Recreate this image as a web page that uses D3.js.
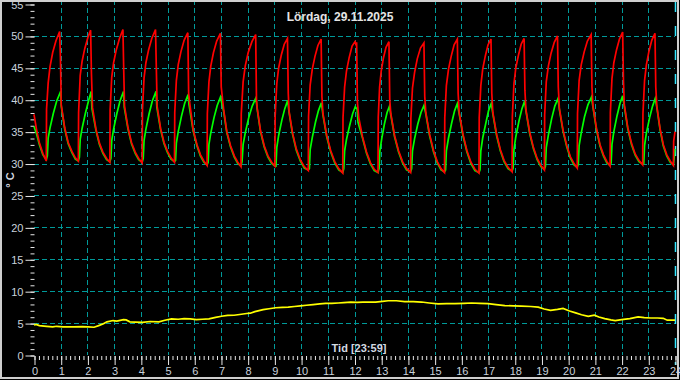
<!DOCTYPE html>
<html>
<head>
<meta charset="utf-8">
<script src="https://cdn.jsdelivr.net/npm/d3@7/dist/d3.min.js"></script>
<style>
body{margin:0;background:#000;}
text{font-family:"Liberation Sans",Arial,sans-serif;}
</style>
</head>
<body>
<script>
var title = "Lördag, 29.11.2025";
var xTitle = "Tid [23:59]";
var yTitle = "° C";
var hourTicks = d3.range(0, 25);
var tempTicks = d3.range(0, 56, 5);
var colors = ["#ff0000", "#00ff00", "#ffff00"];

// supply temperature [hour, °C]
var redSeries = [
[0,37.7],[0.1,35.2],[0.2,33.3],[0.33,31.6],[0.46,30.4],
[0.47,38.5],[0.53,42.6],[0.6,45.2],[0.7,47.4],[0.82,49.2],[0.96,50.7],[0.99,46.6],[1.02,39.2],[1.15,35.6],[1.28,33.3],[1.42,31.9],[1.55,30.9],[1.66,30.4],
[1.67,38.0],[1.73,43.8],[1.8,46.0],[1.9,48.0],[2.02,49.8],[2.12,50.9],[2.15,44.2],[2.19,38.8],[2.32,35.4],[2.45,33.2],[2.58,31.8],[2.72,30.8],[2.84,30.2],
[2.85,38.4],[2.91,43.5],[2.98,45.8],[3.08,47.8],[3.2,49.6],[3.33,51.0],[3.36,44.5],[3.39,39.0],[3.52,35.6],[3.65,33.3],[3.79,31.8],[3.92,30.8],[4.05,30.1],
[4.06,38.3],[4.12,43.4],[4.19,45.8],[4.29,47.8],[4.41,49.6],[4.55,51.0],[4.58,45.0],[4.61,39.0],[4.74,35.5],[4.87,33.3],[5.0,31.9],[5.13,30.9],[5.26,30.2],
[5.27,38.0],[5.33,43.0],[5.4,45.5],[5.5,47.5],[5.62,49.3],[5.76,50.5],[5.79,41.0],[5.83,39.5],[5.96,35.3],[6.1,33.0],[6.23,31.4],[6.36,30.4],[6.48,29.7],
[6.49,37.8],[6.55,42.8],[6.62,45.3],[6.72,47.4],[6.84,49.2],[6.98,50.4],[7.01,42.0],[7.1,38.5],[7.22,35.0],[7.36,32.8],[7.5,31.2],[7.63,30.2],[7.75,29.5],
[7.76,37.8],[7.83,42.8],[7.91,45.3],[8.02,47.4],[8.16,49.1],[8.3,50.2],[8.33,40.0],[8.36,38.6],[8.48,35.2],[8.62,32.8],[8.76,31.2],[8.9,30.2],[9.02,29.6],
[9.03,37.5],[9.09,42.5],[9.16,45.0],[9.26,47.0],[9.37,48.7],[9.49,49.6],[9.52,41.0],[9.55,38.2],[9.68,34.8],[9.82,32.3],[9.97,30.6],[10.12,29.5],[10.27,28.9],
[10.28,37.4],[10.34,42.3],[10.42,44.8],[10.52,46.8],[10.63,48.5],[10.75,49.5],[10.78,40.5],[10.82,37.8],[10.96,34.4],[11.11,32.0],[11.26,30.3],[11.41,29.2],[11.56,28.5],
[11.57,37.2],[11.63,42.0],[11.7,44.5],[11.8,46.6],[11.91,48.4],[12.02,49.1],[12.06,48.6],[12.08,49.0],[12.11,39.5],[12.16,37.2],[12.3,34.2],[12.45,31.8],[12.6,30.1],[12.74,29.1],[12.88,28.6],
[12.89,37.3],[12.94,42.0],[13.0,44.5],[13.08,46.5],[13.18,48.2],[13.29,49.1],[13.32,40.0],[13.36,37.8],[13.5,34.4],[13.65,32.0],[13.8,30.3],[13.95,29.2],[14.1,28.6],
[14.11,37.0],[14.17,41.8],[14.25,44.3],[14.35,46.4],[14.47,48.1],[14.6,48.9],[14.63,40.5],[14.67,38.0],[14.81,34.6],[14.96,32.0],[15.1,30.3],[15.24,29.2],[15.37,28.6],
[15.38,37.2],[15.44,42.2],[15.52,44.8],[15.62,46.8],[15.73,48.6],[15.85,49.5],[15.88,41.0],[15.92,38.0],[16.06,34.6],[16.21,32.0],[16.36,30.2],[16.51,29.1],[16.66,28.5],
[16.67,37.2],[16.73,42.2],[16.8,44.8],[16.9,46.9],[17.0,48.6],[17.11,49.5],[17.14,41.0],[17.18,38.0],[17.32,34.6],[17.46,32.2],[17.6,30.5],[17.75,29.4],[17.9,28.7],
[17.91,37.4],[17.97,42.5],[18.04,45.0],[18.14,47.0],[18.24,48.7],[18.35,49.6],[18.38,41.5],[18.42,38.4],[18.56,34.9],[18.7,32.5],[18.84,30.8],[18.98,29.7],[19.11,29.0],
[19.12,37.6],[19.18,42.8],[19.26,45.3],[19.36,47.3],[19.48,49.0],[19.6,50.0],[19.63,42.0],[19.67,38.7],[19.81,35.2],[19.95,32.8],[20.08,31.1],[20.22,30.0],[20.34,29.3],
[20.35,37.8],[20.41,43.0],[20.49,45.5],[20.6,47.5],[20.72,49.2],[20.86,50.2],[20.89,42.0],[20.93,39.0],[21.06,35.5],[21.19,33.0],[21.32,31.4],[21.45,30.3],[21.57,29.6],
[21.58,38.0],[21.64,43.3],[21.71,45.8],[21.81,47.8],[21.92,49.5],[22.04,50.6],[22.07,43.0],[22.1,39.3],[22.23,35.7],[22.37,33.2],[22.51,31.5],[22.65,30.5],[22.79,29.8],
[22.8,37.8],[22.86,43.0],[22.93,45.5],[23.02,47.5],[23.13,49.3],[23.25,50.4],[23.28,42.0],[23.32,39.0],[23.44,35.5],[23.56,33.0],[23.69,31.4],[23.82,30.4],[23.94,29.7],
[23.95,33.5],[24,35.0]
];

// return temperature [hour, °C]
var greenSeries = [
[0,35.8],[0.1,34.6],[0.2,33.0],[0.33,31.4],[0.46,30.6],
[0.5,31.2],[0.53,34.0],[0.6,35.6],[0.72,37.8],[0.85,39.8],[1.0,41.3],[1.02,39.0],[1.15,35.4],[1.28,33.1],[1.42,31.7],[1.55,30.7],[1.66,30.4],
[1.7,31.0],[1.73,33.8],[1.8,35.5],[1.92,37.8],[2.04,39.8],[2.14,41.3],[2.17,38.6],[2.32,35.2],[2.45,33.0],[2.58,31.6],[2.72,30.6],[2.84,30.3],
[2.88,30.8],[2.91,33.6],[2.98,35.4],[3.1,37.8],[3.22,39.8],[3.35,41.3],[3.38,38.8],[3.52,35.4],[3.65,33.1],[3.79,31.6],[3.92,30.6],[4.05,30.2],
[4.09,30.8],[4.12,33.6],[4.19,35.4],[4.31,37.8],[4.43,39.8],[4.57,41.3],[4.6,38.8],[4.74,35.3],[4.87,33.1],[5.0,31.7],[5.13,30.7],[5.26,30.3],
[5.3,30.5],[5.33,33.2],[5.4,35.0],[5.52,37.4],[5.64,39.4],[5.77,40.8],[5.8,39.3],[5.96,35.1],[6.1,32.8],[6.23,31.2],[6.36,30.2],[6.48,29.8],
[6.52,30.2],[6.55,33.0],[6.62,34.8],[6.74,37.2],[6.86,39.1],[6.98,40.4],[7.1,38.2],[7.22,34.8],[7.36,32.6],[7.5,31.0],[7.63,30.0],[7.75,29.6],
[7.79,30.3],[7.83,33.0],[7.91,34.8],[8.04,37.2],[8.17,39.0],[8.31,40.3],[8.36,38.4],[8.48,35.0],[8.62,32.6],[8.76,31.0],[8.9,30.0],[9.02,29.6],
[9.06,29.6],[9.09,32.5],[9.16,34.4],[9.28,36.8],[9.39,38.6],[9.5,39.9],[9.55,38.0],[9.68,34.6],[9.82,32.1],[9.97,30.4],[10.12,29.3],[10.27,29.0],
[10.31,29.2],[10.34,32.2],[10.42,34.1],[10.54,36.5],[10.65,38.3],[10.76,39.5],[10.82,37.6],[10.96,34.2],[11.11,31.8],[11.26,30.1],[11.41,29.0],[11.56,28.6],
[11.6,29.2],[11.63,32.0],[11.7,33.8],[11.82,36.0],[11.93,37.8],[12.03,38.9],[12.1,38.5],[12.13,36.5],[12.3,34.0],[12.45,31.6],[12.6,29.9],[12.74,28.9],[12.88,28.6],
[12.92,29.2],[12.95,32.0],[13.02,33.9],[13.12,36.2],[13.22,38.0],[13.31,39.0],[13.36,37.6],[13.5,34.2],[13.65,31.8],[13.8,30.1],[13.95,29.0],[14.1,28.7],
[14.14,29.2],[14.17,32.0],[14.25,33.9],[14.37,36.2],[14.49,38.0],[14.6,39.1],[14.67,37.8],[14.81,34.4],[14.96,31.8],[15.1,30.1],[15.24,29.0],[15.37,28.7],
[15.41,29.0],[15.44,32.0],[15.52,34.0],[15.64,36.4],[15.75,38.3],[15.85,39.4],[15.92,37.8],[16.06,34.4],[16.21,31.8],[16.36,30.0],[16.51,28.9],[16.66,28.6],
[16.7,29.0],[16.73,32.0],[16.8,34.0],[16.92,36.4],[17.02,38.3],[17.12,39.4],[17.18,37.8],[17.32,34.4],[17.46,32.0],[17.6,30.3],[17.75,29.2],[17.9,28.8],
[17.94,29.3],[17.97,32.2],[18.04,34.2],[18.16,36.7],[18.27,38.6],[18.37,39.8],[18.42,38.2],[18.56,34.7],[18.7,32.3],[18.84,30.6],[18.98,29.5],[19.11,29.1],
[19.15,29.6],[19.18,32.5],[19.26,34.5],[19.38,37.0],[19.5,39.0],[19.62,40.2],[19.67,38.5],[19.81,35.0],[19.95,32.6],[20.08,30.9],[20.22,29.8],[20.34,29.4],
[20.38,29.9],[20.41,32.8],[20.49,34.8],[20.61,37.3],[20.74,39.2],[20.87,40.4],[20.93,38.8],[21.06,35.3],[21.19,32.8],[21.32,31.2],[21.45,30.1],[21.57,29.7],
[21.61,30.1],[21.64,33.0],[21.71,35.0],[21.83,37.5],[21.94,39.4],[22.04,40.6],[22.1,39.0],[22.23,35.5],[22.37,33.0],[22.51,31.3],[22.65,30.3],[22.79,29.9],
[22.83,30.0],[22.86,32.8],[22.93,34.8],[23.05,37.2],[23.16,39.0],[23.26,40.2],[23.32,38.8],[23.44,35.3],[23.56,32.8],[23.69,31.2],[23.82,30.2],[23.94,29.8],
[23.97,31.0],[24,32.3]
];

// outdoor temperature [hour, °C]
var yellowSeries = [
[0,4.7],[0.08,4.8],[0.2,4.6],[0.47,4.5],[0.7,4.4],[0.85,4.5],[1.09,4.4],[1.5,4.4],[1.8,4.45],[2.03,4.4],[2.25,4.35],[2.42,4.6],
[2.6,4.9],[2.73,5.2],[2.96,5.4],[3.1,5.3],[3.35,5.55],[3.45,5.5],[3.59,5.2],[3.8,5.15],[4.06,5.1],[4.35,5.25],[4.68,5.2],
[4.9,5.45],[5.15,5.65],[5.4,5.6],[5.62,5.7],[5.85,5.65],[6.08,5.55],[6.3,5.6],[6.55,5.65],[6.8,5.9],[7.02,6.07],
[7.25,6.2],[7.49,6.23],[7.7,6.35],[7.96,6.5],[8.1,6.55],[8.27,6.8],[8.58,7.1],[8.8,7.25],[9.05,7.4],[9.3,7.45],[9.52,7.5],
[9.75,7.6],[9.98,7.7],[10.2,7.8],[10.45,7.9],[10.7,8.0],[10.92,8.1],[11.15,8.1],[11.39,8.15],[11.6,8.2],[11.86,8.27],
[12.1,8.25],[12.32,8.27],[12.55,8.3],[12.79,8.3],[13.05,8.4],[13.26,8.5],[13.57,8.5],[13.88,8.37],[14.2,8.35],[14.51,8.3],
[14.8,8.15],[15.13,8.0],[15.45,8.05],[15.76,8.05],[16.1,8.1],[16.38,8.15],[16.7,8.1],[17.0,8.05],[17.3,7.9],[17.63,7.75],
[17.95,7.7],[18.25,7.65],[18.6,7.6],[18.88,7.5],[19.1,7.2],[19.34,7.0],[19.6,7.15],[19.81,7.3],[20.05,6.9],[20.28,6.6],
[20.5,6.3],[20.75,6.07],[20.98,6.23],[21.15,5.95],[21.37,5.7],[21.6,5.5],[21.76,5.4],[22.0,5.55],[22.31,5.7],[22.62,5.97],
[22.85,5.85],[23.09,5.8],[23.35,5.8],[23.56,5.75],[23.71,5.45],[24,5.45]
];

var width = 680, height = 380;
var plotLeft = 34, plotRight = 675, plotTop = 4, plotBottom = 355;

var svg = d3.select("body").append("svg").attr("width", width).attr("height", height);
svg.append("rect").attr("width", width).attr("height", height).attr("fill", "#000");

var x = d3.scaleLinear().domain([0, 24]).range([plotLeft, plotRight]);
var y = d3.scaleLinear().domain([0, 55]).range([plotBottom, plotTop]);

// grid
svg.append("g").selectAll("line").data(tempTicks.filter(d => d > 0 && d < 55)).enter().append("line")
  .attr("x1", plotLeft).attr("x2", plotRight).attr("y1", d => Math.round(y(d)) + 0.5).attr("y2", d => Math.round(y(d)) + 0.5)
  .attr("stroke", "#009a9a").attr("stroke-dasharray", "5,3");
svg.append("g").selectAll("line").data(hourTicks.filter(d => d > 0 && d < 24)).enter().append("line")
  .attr("x1", d => Math.round(x(d)) + 0.5).attr("x2", d => Math.round(x(d)) + 0.5).attr("y1", 0).attr("y2", plotBottom)
  .attr("stroke", "#009a9a").attr("stroke-dasharray", "5,3");
svg.append("line").attr("x1", Math.round(x(24)) + 0.5).attr("x2", Math.round(x(24)) + 0.5).attr("y1", 2).attr("y2", 365)
  .attr("stroke", "#33e8ff").attr("stroke-width", 1.5).attr("stroke-dasharray", "10,14");

// axes
function styleAxis(g){
  g.select(".domain").remove();
  g.selectAll("line").attr("stroke", "#e8e8e8");
  g.selectAll("text").attr("fill", "#c9d2dc").style("font-size", "11px").style("font-family", "\"Liberation Sans\",Arial,sans-serif");
}
svg.append("g").attr("transform", "translate(" + (plotLeft + 0.5) + ",0.5)")
  .call(d3.axisLeft(y).tickValues(d3.range(0, 56, 1)).tickSize(4).tickFormat(""))
  .call(styleAxis);
svg.append("g").attr("transform", "translate(" + (plotLeft + 0.5) + ",0.5)")
  .call(d3.axisLeft(y).tickValues(tempTicks).tickSize(9).tickPadding(2))
  .call(styleAxis);
svg.append("g").attr("transform", "translate(0.5," + (plotBottom + 1) + ")")
  .call(d3.axisBottom(x).tickValues(d3.range(0, 24.01, 1 / 6)).tickSize(4).tickFormat(""))
  .call(styleAxis);
svg.append("g").attr("transform", "translate(0.5," + (plotBottom + 1) + ")")
  .call(d3.axisBottom(x).tickValues(hourTicks).tickSize(9).tickPadding(2))
  .call(styleAxis);

// series
var line = d3.line().x(d => x(d[0])).y(d => y(d[1]));
[greenSeries, redSeries, yellowSeries].forEach(function(s, i){
  svg.append("path").datum(s).attr("d", line).attr("fill", "none")
    .attr("stroke", [colors[1], colors[0], colors[2]][i]).attr("stroke-width", 1.7);
});

// texts
svg.append("text").attr("x", 340).attr("y", 21).attr("text-anchor", "middle")
  .attr("fill", "#e4e4e4").style("font-size", "12px").style("font-weight", "bold").text(title);
svg.append("text").attr("x", 359).attr("y", 352).attr("text-anchor", "middle")
  .attr("fill", "#d4dae2").style("font-size", "11px").style("font-weight", "bold").text(xTitle);
svg.append("text").attr("transform", "translate(14,180) rotate(-90)").attr("text-anchor", "middle")
  .attr("fill", "#d4dae2").style("font-size", "11px").style("font-weight", "bold").text(yTitle);

// frame
svg.append("rect").attr("x", 1).attr("y", 1).attr("width", 677).attr("height", 377)
  .attr("fill", "none").attr("stroke", "#cfcfcf").attr("stroke-width", 2);
</script>
</body>
</html>
